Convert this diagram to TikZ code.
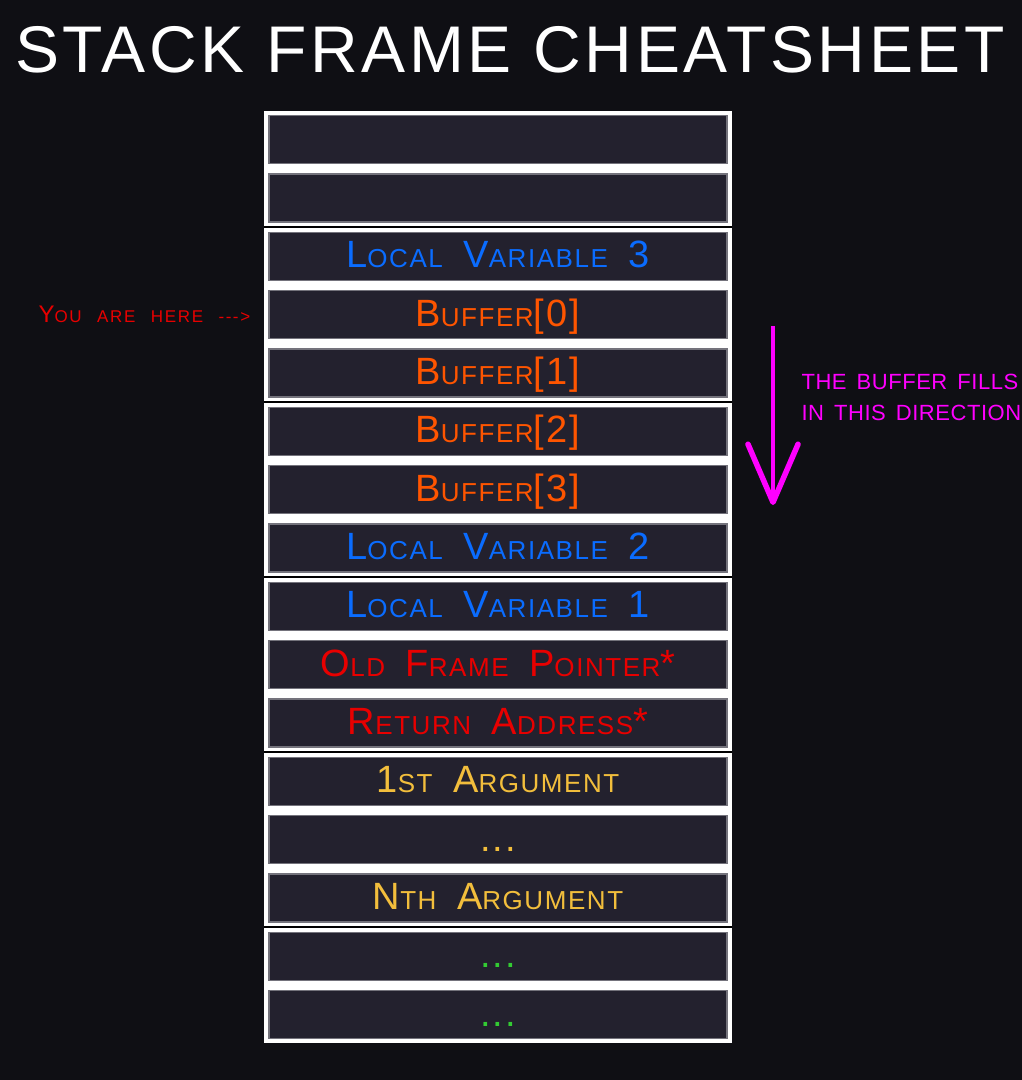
\documentclass[tikz,border=0pt]{standalone}
\usepackage{fontspec}
\usetikzlibrary{arrows.meta,positioning}

\setmainfont{Liberation Sans}
\newfontfamily\cellfont{Liberation Sans}[LetterSpace=6,WordSpace=1.6]
\newfontfamily\herefont{Liberation Sans}[LetterSpace=10,WordSpace=2.4]
\newfontfamily\notefont{Liberation Sans}[LetterSpace=2.5,WordSpace=1.5]
\newfontfamily\titlefont{Liberation Sans}[LetterSpace=5.4]

\definecolor{bgdark}{HTML}{0F0F14}
\definecolor{cellfill}{HTML}{23212E}
\definecolor{cellrim}{HTML}{74737C}
\definecolor{varblue}{HTML}{0A6CFF}
\definecolor{bufred}{HTML}{FF5500}
\definecolor{ptrred}{HTML}{E80000}
\definecolor{arggold}{HTML}{F2BE3C}
\definecolor{dotgreen}{HTML}{33CC33}
\definecolor{fillpink}{HTML}{FF00FF}

% fake small caps: big first letter, smaller rest
\newcommand\bigsz{\fontsize{38}{40}\selectfont}
\newcommand\smsz{\fontsize{26}{28}\selectfont}
\newcommand\fsc[2]{{\bigsz #1}{\smsz #2}}
\newcommand\ddd{.\kern2pt.\kern2pt.}

\begin{document}
\begin{tikzpicture}[x=1pt,y=-1pt,
    cellbox/.style={draw=cellrim, line width=1.5pt, fill=cellfill,
      minimum width=458pt, minimum height=48pt, inner sep=0pt,
      text height=23pt, text depth=0pt, font=\cellfont\bigsz},
    varcell/.style={cellbox, text=varblue},
    bufcell/.style={cellbox, text=bufred},
    ptrcell/.style={cellbox, text=ptrred},
    argcell/.style={cellbox, text=arggold},
    dotcell/.style={cellbox, text=dotgreen},
    sepline/.style={black, line width=2pt},
    notetext/.style={anchor=base west, text=fillpink, font=\notefont\fontsize{22}{24}\selectfont},
    fillarrow/.style={fillpink, line width=4pt,
      -{Straight Barb[length=58pt,width=50pt,line width=5.5pt,round]}}]

    \path[use as bounding box, fill=bgdark] (0,0) rectangle (1022,1080);

    \node[white, anchor=base, font=\titlefont\fontsize{66}{70}\selectfont] (title) at (510,72) {STACK FRAME CHEATSHEET};

    % the stack itself
    \fill[white] (264,111) rectangle (732,1043);
    \node[cellbox] (top0) at (498,139.7) {};
    \node[cellbox] (top1) at (498,198.0) {};
    \node[varcell] (var3) at (498,256.4) {\fsc{L}{OCAL} \fsc{V}{ARIABLE} 3};
    \node[bufcell] (buf0) at (498,314.7) {\fsc{B}{UFFER}[0]};
    \node[bufcell] (buf1) at (498,373.0) {\fsc{B}{UFFER}[1]};
    \node[bufcell] (buf2) at (498,431.4) {\fsc{B}{UFFER}[2]};
    \node[bufcell] (buf3) at (498,489.7) {\fsc{B}{UFFER}[3]};
    \node[varcell] (var2) at (498,548.0) {\fsc{L}{OCAL} \fsc{V}{ARIABLE} 2};
    \node[varcell] (var1) at (498,606.3) {\fsc{L}{OCAL} \fsc{V}{ARIABLE} 1};
    \node[ptrcell] (oldfp) at (498,664.7) {\fsc{O}{LD} \fsc{F}{RAME} \fsc{P}{OINTER}*};
    \node[ptrcell] (retaddr) at (498,723.0) {\fsc{R}{ETURN} \fsc{A}{DDRESS}*};
    \node[argcell] (arg1) at (498,781.3) {\fsc{1}{ST} \fsc{A}{RGUMENT}};
    \node[argcell] (argdots) at (498,839.7) {\ddd};
    \node[argcell] (argn) at (498,898.0) {\fsc{N}{TH} \fsc{A}{RGUMENT}};
    \node[dotcell] (low0) at (498,956.3) {\ddd};
    \node[dotcell] (low1) at (498,1014.7) {\ddd};

    \foreach \y in {227.2,402.2,577.2,752.2,927.2}
      \draw[sepline] (264,\y) -- (732,\y);

    % pointer on the left
    \node[anchor=base west, text=ptrred, font=\herefont\fontsize{24}{26}\selectfont] (here) at (35,322)
      {Y{\fontsize{17}{18}\selectfont OU ARE HERE -\kern1.5pt-\kern1.5pt->}};

    % fill direction on the right
    \coordinate (fillstart) at (773,326);
    \coordinate (fillend) at (773,505);
    \draw[fillarrow] (fillstart) -- (fillend);
    \node[notetext] (note1) at (798,389) {THE BUFFER FILLS};
    \node[notetext] (note2) at ([yshift=-31pt]note1.base west) {IN THIS DIRECTION};
\end{tikzpicture}
\end{document}
